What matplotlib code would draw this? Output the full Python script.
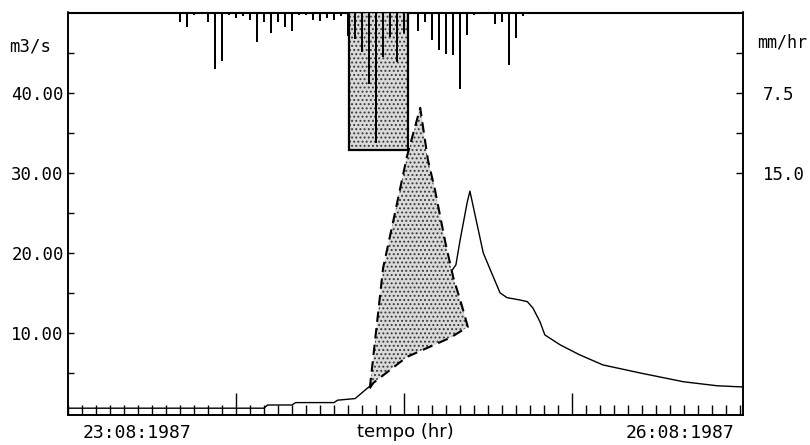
import matplotlib
matplotlib.use('Agg')
import matplotlib.pyplot as plt
import matplotlib.transforms as mtransforms
from matplotlib.ticker import FixedLocator, MultipleLocator

# --- portata osservata (m3/s) ---
obs_t = [0, 28, 28.5, 32, 32.5, 38, 38.5, 41, 43.3, 48, 54.6, 55.4, 56.0, 57.0, 57.4,
         59.3, 60.3, 61.7, 62.7, 64.6, 65.6, 66.4, 67.4, 68.1, 70.3, 73.1, 76.4,
         81.7, 87.9, 92.7, 96.4]
obs_q = [0.6, 0.6, 1.0, 1.0, 1.3, 1.3, 1.6, 1.8, 3.5, 8.5, 17.5, 18.5, 21.6, 26.25, 27.7,
         20.0, 17.9, 15.0, 14.4, 14.1, 13.9, 13.1, 11.4, 9.75, 8.5, 7.25, 6.0,
         5.0, 3.9, 3.4, 3.25]

# --- idrogramma simulato ---
sim_t = [43.1, 45.0, 46.4, 48.4, 50.3, 51.4, 52.4, 53.9, 55.0, 56.3, 57.1, 54.6, 48.4, 43.6]
sim_q = [3.1, 18.1, 23.75, 32.0, 38.1, 31.6, 27.9, 21.25, 17.0, 13.25, 10.75, 9.4, 7.0, 3.75]

# --- pioggia oraria (mm/hr) ---
rain_hour = [16, 17, 18, 20, 21, 22, 23, 24, 25, 26, 27, 28, 29, 30, 31, 32, 33, 34, 35, 36,
             37, 38, 39, 40, 41, 42, 43, 44, 45, 46, 47, 48, 50, 51, 52, 53, 54, 55, 56,
             57, 58, 61, 62, 63, 64, 65]
rain_mm = [0.9, 1.4, 0.2, 0.9, 5.3, 4.5, 0.2, 0.5, 0.3, 0.7, 2.8, 0.9, 1.9, 0.9, 1.4, 1.7,
           0.2, 0.2, 0.7, 0.8, 0.5, 0.7, 0.3, 2.2, 2.5, 3.7, 6.7, 12.2, 4.2, 2.3, 4.6, 1.9,
           1.7, 0.9, 2.6, 3.5, 3.9, 4.0, 7.2, 2.1, 0.2, 1.1, 0.9, 4.9, 2.4, 0.3]

# pioggia efficace
eff_start, eff_end, eff_rate = 40.1, 48.6, 12.9

q_ticks = [10, 20, 30, 40]
q_labels = ['10.00', '20.00', '30.00', '40.00']
r_ticks = [7.5, 15.0]
r_labels = ['7.5', '15.0']
date_labels = ['23:08:1987', '26:08:1987']

MONO = 'DejaVu Sans Mono'
fill_col = '#dadada'
hatch_col = '#3a3a3a'
plt.rcParams['hatch.linewidth'] = 0.9

fig = plt.figure(figsize=(8.1, 4.45), dpi=100)
ax = fig.add_axes([68 / 810, 30 / 445, 675 / 810, 402.5 / 445])
ax2 = ax.twinx()

ax.set_xlim(0, 96.4)
ax.set_ylim(-0.25, 50)
ax2.set_ylim(37.69, 0)

# portata
ax.plot(obs_t, obs_q, color='black', lw=1.0, zorder=2)
ax.fill(sim_t, sim_q, facecolor=fill_col, edgecolor=hatch_col, hatch='....', linewidth=0, zorder=3)
ax.plot(sim_t + [sim_t[0]], sim_q + [sim_q[0]], color='black', lw=1.5,
        ls=(0, (5, 3)), zorder=4)

# pioggia
ax2.bar(eff_start, eff_rate, width=eff_end - eff_start, align='edge', facecolor=fill_col,
        edgecolor=hatch_col, hatch='....', linewidth=0, zorder=1)
ax2.bar(eff_start, eff_rate, width=eff_end - eff_start, align='edge', fill=False,
        edgecolor='black', linewidth=1.6, zorder=2)
ax2.bar(rain_hour, rain_mm, width=0.28, color='black', zorder=3)

# assi
ax.xaxis.set_major_locator(FixedLocator([24, 48, 72]))
ax.xaxis.set_minor_locator(MultipleLocator(2))
ax.tick_params(axis='x', which='both', direction='in', labelbottom=False, top=False, width=1.0)
ax.tick_params(axis='x', which='major', length=16)
ax.tick_params(axis='x', which='minor', length=7)

ax.yaxis.set_major_locator(FixedLocator(q_ticks))
ax.yaxis.set_minor_locator(FixedLocator([5, 15, 25, 35, 45]))
ax.set_yticklabels(q_labels, fontfamily=MONO, fontsize=12.5)
ax.tick_params(axis='y', which='both', direction='in', length=4, width=1.0, pad=3)

ax2.yaxis.set_major_locator(FixedLocator(r_ticks))
ax2.yaxis.set_minor_locator(FixedLocator([3.75, 11.25]))
ax2.set_yticklabels(r_labels, fontfamily=MONO, fontsize=12.5)
ax2.tick_params(axis='y', which='both', direction='in', length=5, width=1.0, pad=14)

for a in (ax, ax2):
    for s in ('left', 'right', 'bottom'):
        a.spines[s].set_linewidth(1.2)
    a.spines['top'].set_linewidth(0.8)

trans_l = mtransforms.blended_transform_factory(ax.transAxes, ax.transData)
ax.text(-0.056, 45.75, 'm3/s', transform=trans_l, ha='center', va='center',
        fontfamily=MONO, fontsize=12.5)
ax.text(1.058, 46.25, 'mm/hr', transform=trans_l, ha='center', va='center',
        fontfamily=MONO, fontsize=12)

ax.set_xlabel('tempo (hr)', fontsize=13, labelpad=6)
ax.text(0.102, -0.045, date_labels[0], transform=ax.transAxes, ha='center', va='center',
        fontfamily=MONO, fontsize=13)
ax.text(0.907, -0.045, date_labels[1], transform=ax.transAxes, ha='center', va='center',
        fontfamily=MONO, fontsize=13)

fig.savefig('out.png', dpi=100)
